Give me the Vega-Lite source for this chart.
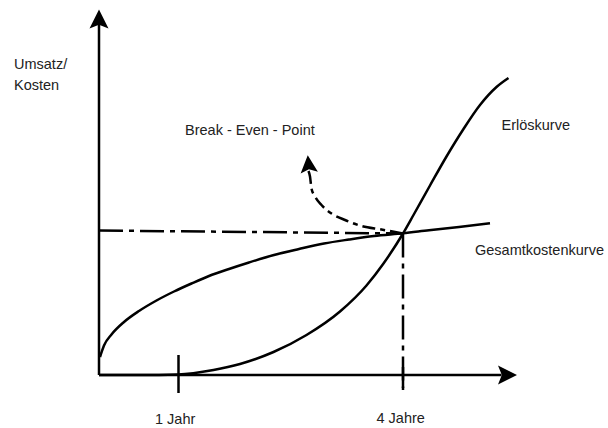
{
  "$schema": "https://vega.github.io/schema/vega-lite/v6.json",
  "width": 608,
  "height": 428,
  "padding": 0,
  "autosize": {"type": "fit", "contains": "padding"},
  "background": "white",
  "config": {"view": {"stroke": null}},
  "datasets": {
    "axes": [
      {"part": "y-Achse", "x": 0, "y": 0, "x2": 0, "y2": 70.5},
      {"part": "x-Achse", "x": 0, "y": 0, "x2": 80.5, "y2": 0},
      {"part": "1 Jahr", "x": 15.9, "y": 4, "x2": 15.9, "y2": -3.6},
      {"part": "4 Jahre", "x": 60.8, "y": 1.6, "x2": 60.8, "y2": -3}
    ],
    "guides": [
      {"part": "horizontal", "x": 0, "y": 28.9, "x2": 60.8, "y2": 28.3},
      {"part": "vertikal", "x": 60.8, "y": 28.3, "x2": 60.8, "y2": -2.6}
    ],
    "curves": [
      {"series": "Gesamtkosten", "x": 0.2, "y": 3.6},
      {"series": "Gesamtkosten", "x": 1, "y": 5.9},
      {"series": "Gesamtkosten", "x": 2.5, "y": 8.1},
      {"series": "Gesamtkosten", "x": 5, "y": 10.6},
      {"series": "Gesamtkosten", "x": 8, "y": 12.8},
      {"series": "Gesamtkosten", "x": 11.5, "y": 14.9},
      {"series": "Gesamtkosten", "x": 15, "y": 16.7},
      {"series": "Gesamtkosten", "x": 18.5, "y": 18.3},
      {"series": "Gesamtkosten", "x": 22, "y": 19.8},
      {"series": "Gesamtkosten", "x": 26, "y": 21.2},
      {"series": "Gesamtkosten", "x": 30, "y": 22.5},
      {"series": "Gesamtkosten", "x": 35, "y": 24},
      {"series": "Gesamtkosten", "x": 40, "y": 25.2},
      {"series": "Gesamtkosten", "x": 45, "y": 26.3},
      {"series": "Gesamtkosten", "x": 50, "y": 27.1},
      {"series": "Gesamtkosten", "x": 55, "y": 27.8},
      {"series": "Gesamtkosten", "x": 60.8, "y": 28.35},
      {"series": "Gesamtkosten", "x": 66, "y": 28.95},
      {"series": "Gesamtkosten", "x": 72, "y": 29.6},
      {"series": "Gesamtkosten", "x": 78.2, "y": 30.35},
      {"series": "Erlös", "x": 0, "y": 0},
      {"series": "Erlös", "x": 8.2, "y": 0},
      {"series": "Erlös", "x": 15.8, "y": 0.1},
      {"series": "Erlös", "x": 22.9, "y": 1},
      {"series": "Erlös", "x": 28.2, "y": 2.2},
      {"series": "Erlös", "x": 34.9, "y": 4.6},
      {"series": "Erlös", "x": 41.5, "y": 8},
      {"series": "Erlös", "x": 48.2, "y": 12.7},
      {"series": "Erlös", "x": 53.5, "y": 17.9},
      {"series": "Erlös", "x": 56.9, "y": 22.3},
      {"series": "Erlös", "x": 60.8, "y": 28.3},
      {"series": "Erlös", "x": 62.9, "y": 32},
      {"series": "Erlös", "x": 66.2, "y": 37.9},
      {"series": "Erlös", "x": 69.5, "y": 43.7},
      {"series": "Erlös", "x": 72.9, "y": 49.2},
      {"series": "Erlös", "x": 76.2, "y": 54},
      {"series": "Erlös", "x": 79.5, "y": 57.6},
      {"series": "Erlös", "x": 81.9, "y": 59.4}
    ],
    "arrow": [
      {"x": 41.9, "y": 40.8},
      {"x": 42.2, "y": 39.7},
      {"x": 42.5, "y": 37.3},
      {"x": 43.2, "y": 35.7},
      {"x": 44.5, "y": 34},
      {"x": 46.5, "y": 32.3},
      {"x": 49.2, "y": 31},
      {"x": 52.5, "y": 29.8},
      {"x": 56.5, "y": 29.1},
      {"x": 60.8, "y": 28.3}
    ],
    "heads": [
      {"name": "y", "x": 0, "y": 71.2},
      {"name": "x", "x": 81.7, "y": 0},
      {"name": "bep", "x": 41.9, "y": 42.2}
    ],
    "labels": [
      {"label": "Umsatz/", "x": -17, "y": 61.3},
      {"label": "Kosten", "x": -17, "y": 57},
      {"label": "Break - Even - Point", "x": 17.2, "y": 48},
      {"label": "Erlöskurve", "x": 80.5, "y": 49},
      {"label": "Gesamtkostenkurve", "x": 75.2, "y": 24},
      {"label": "1 Jahr", "x": 11.2, "y": -9.8},
      {"label": "4 Jahre", "x": 55.5, "y": -9.6}
    ]
  },
  "encoding": {
    "x": {"field": "x", "type": "quantitative", "scale": {"domain": [-19.8, 101.8], "nice": false, "zero": false}, "axis": null},
    "y": {"field": "y", "type": "quantitative", "scale": {"domain": [-10.6, 75], "nice": false, "zero": false}, "axis": null}
  },
  "layer": [
    {
      "data": {"name": "guides"},
      "mark": {"type": "rule", "color": "#000000", "strokeWidth": 2.5, "strokeDash": [24, 6, 5, 6]},
      "encoding": {"x2": {"field": "x2"}, "y2": {"field": "y2"}}
    },
    {
      "data": {"name": "axes"},
      "mark": {"type": "rule", "color": "#000000", "strokeWidth": 2.5},
      "encoding": {"x2": {"field": "x2"}, "y2": {"field": "y2"}}
    },
    {
      "data": {"name": "curves"},
      "mark": {"type": "line", "color": "#000000", "strokeWidth": 2.5, "interpolate": "monotone"},
      "encoding": {"detail": {"field": "series"}}
    },
    {
      "data": {"name": "arrow"},
      "mark": {"type": "line", "color": "#000000", "strokeWidth": 2.5, "interpolate": "monotone", "strokeDash": [13, 5, 5, 5]},
      "encoding": {}
    },
    {
      "data": {"name": "heads"},
      "transform": [{"filter": "datum.name === 'y'"}],
      "mark": {"type": "point", "filled": true, "color": "#000000", "opacity": 1, "size": 361, "shape": "M0,-1L1,1L0,0.6L-1,1Z"}
    },
    {
      "data": {"name": "heads"},
      "transform": [{"filter": "datum.name === 'x'"}],
      "mark": {"type": "point", "filled": true, "color": "#000000", "opacity": 1, "size": 361, "shape": "M1,0L-1,-1L-0.6,0L-1,1Z"}
    },
    {
      "data": {"name": "heads"},
      "transform": [{"filter": "datum.name === 'bep'"}],
      "mark": {"type": "point", "filled": true, "color": "#000000", "opacity": 1, "size": 300, "angle": -5, "shape": "M0,-1L1,1L0,0.6L-1,1Z"}
    },
    {
      "data": {"name": "labels"},
      "mark": {"type": "text", "align": "left", "baseline": "alphabetic", "font": "Liberation Sans", "fontSize": 14.5, "color": "#222222"},
      "encoding": {"text": {"field": "label"}}
    }
  ]
}
